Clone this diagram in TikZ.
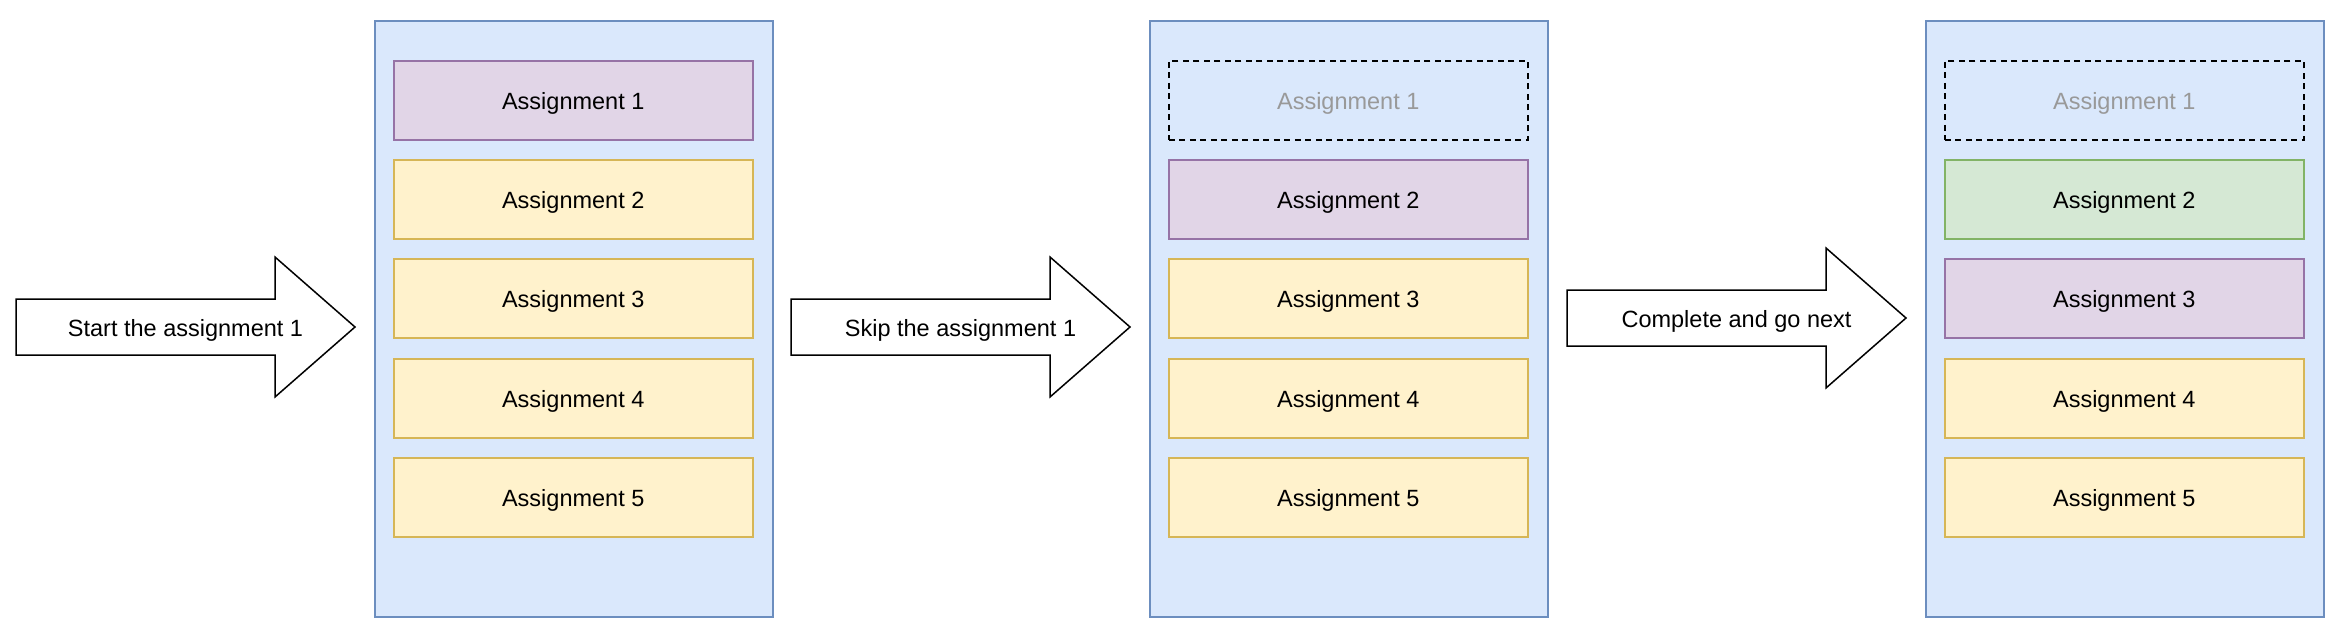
\documentclass[tikz,border=0pt]{standalone}
\usepackage{fontspec}
\setmainfont{Liberation Sans}
\definecolor{panelfill}{HTML}{DAE8FC}
\definecolor{paneldraw}{HTML}{6C8EBF}
\definecolor{purfill}{HTML}{E1D5E7}
\definecolor{purdraw}{HTML}{9673A6}
\definecolor{yelfill}{HTML}{FFF2CC}
\definecolor{yeldraw}{HTML}{D6B656}
\definecolor{grnfill}{HTML}{D5E8D4}
\definecolor{grndraw}{HTML}{82B366}
\definecolor{greytext}{HTML}{999999}
\begin{document}
\begin{tikzpicture}[x=1pt,y=-1pt,
  every node/.style={font=\fontsize{23.5}{28}\selectfont, text=black, text height=19pt, text depth=0pt},
  panel/.style={draw=paneldraw, fill=panelfill, line width=1.5pt, minimum width=398pt, minimum height=596pt, anchor=north west, inner sep=0pt},
  abox/.style={line width=1.5pt, minimum width=359pt, minimum height=79pt, anchor=north west, inner sep=0pt},
  cur/.style={abox, draw=purdraw, fill=purfill},
  todo/.style={abox, draw=yeldraw, fill=yelfill},
  done/.style={abox, draw=grndraw, fill=grnfill},
  skipped/.style={abox, draw=black, dash pattern=on 6pt off 4.5pt, text=greytext},
  bigarrow/.style={draw=black, fill=white, line width=1.5pt, line join=miter}
]
\useasboundingbox (0,0) rectangle (2340,630);

% panels
\node[panel] (p1) at (374,20) {};
\node[panel] (p2) at (1149,20) {};
\node[panel] (p3) at (1925,20) {};

% panel 1
\node[cur]  (a11) at (393,60)  {Assignment 1};
\node[todo] (a12) at (393,159) {Assignment 2};
\node[todo] (a13) at (393,258) {Assignment 3};
\node[todo] (a14) at (393,358) {Assignment 4};
\node[todo] (a15) at (393,457) {Assignment 5};

% panel 2
\node[skipped] (a21) at (1168,60)  {Assignment 1};
\node[cur]     (a22) at (1168,159) {Assignment 2};
\node[todo]    (a23) at (1168,258) {Assignment 3};
\node[todo]    (a24) at (1168,358) {Assignment 4};
\node[todo]    (a25) at (1168,457) {Assignment 5};

% panel 3
\node[skipped] (a31) at (1944,60)  {Assignment 1};
\node[done]    (a32) at (1944,159) {Assignment 2};
\node[cur]     (a33) at (1944,258) {Assignment 3};
\node[todo]    (a34) at (1944,358) {Assignment 4};
\node[todo]    (a35) at (1944,457) {Assignment 5};

% big arrows
\draw[bigarrow] (16,299) -- (275,299) -- (275,257) -- (355,327) -- (275,397) -- (275,355) -- (16,355) -- cycle;
\node (t1) at (185.5,327) {Start the assignment 1};

\draw[bigarrow] (791,299) -- (1050,299) -- (1050,257) -- (1130,327) -- (1050,397) -- (1050,355) -- (791,355) -- cycle;
\node (t2) at (960.5,327) {Skip the assignment 1};

\draw[bigarrow] (1567,290) -- (1826,290) -- (1826,248) -- (1906,318) -- (1826,388) -- (1826,346) -- (1567,346) -- cycle;
\node (t3) at (1736.5,318) {Complete and go next};
\end{tikzpicture}
\end{document}
